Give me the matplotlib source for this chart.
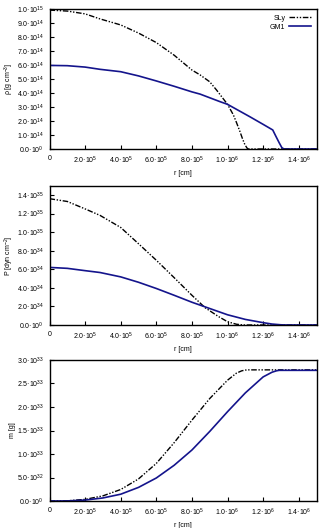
import matplotlib
matplotlib.use('Agg')
import matplotlib.pyplot as plt
from matplotlib.ticker import FuncFormatter, MultipleLocator

plt.rcParams['font.family'] = ['Liberation Sans', 'DejaVu Sans']
plt.rcParams['mathtext.fontset'] = 'custom'
plt.rcParams['mathtext.rm'] = 'Liberation Sans'
plt.rcParams['mathtext.default'] = 'regular'

# radius samples, units of 1e5 cm
r_sly_rho = [0, 1, 2, 2.84, 4, 5, 6, 7, 8, 8.46, 9.0, 9.39, 10.0, 10.33, 10.5, 10.7, 10.85, 10.98, 11.1, 11.17, 15]
sly_rho = [9.92, 9.85, 9.65, 9.29, 8.86, 8.28, 7.6, 6.7, 5.64, 5.29, 4.8, 4.2, 3.19, 2.43, 1.9, 1.24, 0.7, 0.3, 0.06, 0, 0]  # 1e14
r_gm1_rho = [0, 1, 2, 2.84, 4, 5, 6, 7, 8, 8.46, 9.58, 10, 11.26, 12, 12.54, 12.7, 12.9, 13.05, 13.17, 15]
gm1_rho = [5.97, 5.95, 5.85, 5.69, 5.52, 5.22, 4.86, 4.48, 4.08, 3.92, 3.38, 3.19, 2.3, 1.76, 1.36, 0.95, 0.45, 0.1, 0, 0]

r_sly_p = [0, 1, 2, 2.84, 4, 5, 6, 7, 8, 8.74, 9.5, 10, 10.5, 10.9, 15]
sly_p = [13.6, 13.3, 12.5, 11.8, 10.5, 8.75, 6.97, 5.1, 3.2, 1.86, 0.9, 0.35, 0.08, 0, 0]  # 1e34
r_gm1_p = [0, 1, 2, 2.84, 4, 5, 6, 7, 8, 8.74, 10, 11, 12, 12.5, 13, 13.3, 15]
gm1_p = [6.2, 6.1, 5.85, 5.65, 5.18, 4.6, 3.93, 3.2, 2.45, 1.95, 1.1, 0.6, 0.25, 0.1, 0.02, 0, 0]

r_sly_m = [0, 1, 2, 3, 4, 5, 6, 7, 8, 9, 10, 10.5, 10.8, 11, 11.2, 15]
sly_m = [0, 0.004, 0.035, 0.11, 0.245, 0.47, 0.80, 1.24, 1.72, 2.18, 2.57, 2.72, 2.77, 2.785, 2.79, 2.79]  # 1e33
r_gm1_m = [0, 1, 2, 3, 4, 5, 6, 7, 8, 9, 10, 11, 12, 12.5, 12.75, 12.9, 15]
gm1_m = [0, 0.0025, 0.02, 0.065, 0.145, 0.29, 0.49, 0.76, 1.085, 1.48, 1.9, 2.3, 2.64, 2.74, 2.77, 2.78, 2.78]

sly_style = dict(color='black', lw=1.0, ls=(0, (4, 1.2, 1, 1.2, 1, 1.2)))
gm1_style = dict(color='#14148c', lw=1.2)


def sci(v, pos=None):
    if v == 0:
        return '0.0·10$^{0}$'
    e = 0
    m = abs(v)
    while m >= 9.999:
        m /= 10
        e += 1
    return '%.1f·10$^{%d}$' % (m, e)


def xfmt(v, pos=None):
    if v == 0:
        return '0'
    return sci(v)


fig = plt.figure(figsize=(3.29, 5.28), dpi=100)
boxes = [[0.1505, 0.7178, 0.8116, 0.2652],
         [0.1505, 0.3845, 0.8116, 0.2638],
         [0.1505, 0.0511, 0.8116, 0.2671]]
axes = [fig.add_axes(b) for b in boxes]

a1, a2, a3 = axes
a1.plot([x * 1e5 for x in r_sly_rho], [y * 1e14 for y in sly_rho], label='SLy', **sly_style)
a1.plot([x * 1e5 for x in r_gm1_rho], [y * 1e14 for y in gm1_rho], label='GM1', **gm1_style)
a1.set_ylim(0, 1e15)
a1.yaxis.set_major_locator(MultipleLocator(1e14))
a1.set_ylabel(r'$\rho$ [g cm$^{-3}$]')
leg = a1.legend(loc='upper right', markerfirst=False, frameon=False, fontsize=5,
                handlelength=3.2, handletextpad=0.5, labelspacing=0.3,
                borderaxespad=0.4)
for t in leg.get_texts():
    t.set_ha('right')

a2.plot([x * 1e5 for x in r_sly_p], [y * 1e34 for y in sly_p], **sly_style)
a2.plot([x * 1e5 for x in r_gm1_p], [y * 1e34 for y in gm1_p], **gm1_style)
a2.set_ylim(0, 1.5e35)
a2.yaxis.set_major_locator(MultipleLocator(2e34))
a2.set_ylabel(r'P [dyn cm$^{-2}$]')

a3.plot([x * 1e5 for x in r_sly_m], [y * 1e33 for y in sly_m], **sly_style)
a3.plot([x * 1e5 for x in r_gm1_m], [y * 1e33 for y in gm1_m], **gm1_style)
a3.set_ylim(0, 3e33)
a3.yaxis.set_major_locator(MultipleLocator(5e32))
a3.set_ylabel('m [g]')

for ax in axes:
    ax.set_xlim(0, 1.5e6)
    ax.xaxis.set_major_locator(MultipleLocator(2e5))
    ax.xaxis.set_major_formatter(FuncFormatter(xfmt))
    ax.yaxis.set_major_formatter(FuncFormatter(sci))
    ax.tick_params(direction='in', length=3, width=0.8, labelsize=5, pad=4,
                   top=False, right=False)
    ax.set_xlabel('r [cm]', fontsize=5, labelpad=3)
    ax.yaxis.label.set_size(5)
    ax.yaxis.set_label_coords(-0.125, 0.5)
    for s in ax.spines.values():
        s.set_linewidth(1.0)

fig.savefig('out.png', dpi=100)
